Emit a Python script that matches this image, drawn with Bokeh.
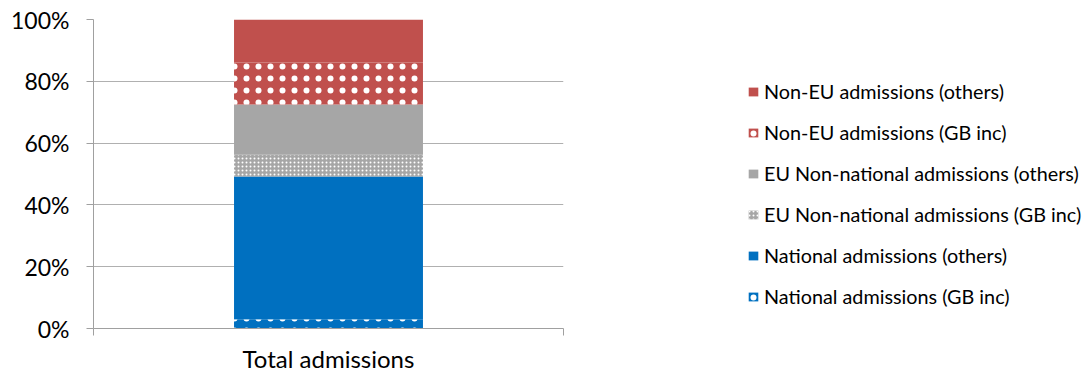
from bokeh.plotting import figure
from bokeh.models import (ColumnDataSource, Legend, LegendItem, FixedTicker,
                          NumeralTickFormatter, Range1d)
from bokeh.embed import file_html
from bokeh.resources import INLINE

categories = ["Total admissions"]
series = ["National admissions (GB inc)", "National admissions (others)",
          "EU Non-national admissions (GB inc)", "EU Non-national admissions (others)",
          "Non-EU admissions (GB inc)", "Non-EU admissions (others)"]
shares = [0.03, 0.462, 0.07, 0.163, 0.136, 0.139]
y_ticks = [0, 0.2, 0.4, 0.6, 0.8, 1.0]

colors = ["#0070C0", "#0070C0", "#A6A6A6", "#A6A6A6", "#C0504D", "#C0504D"]
hatches = ["dot", None, "dot", None, "dot", None]
hscales = [12, 12, 4, 12, 12, 12]
hweights = [4, 1, 1.6, 1, 4, 1]

FONT = "Lato"

p = figure(frame_width=470, frame_height=309, output_backend="svg", toolbar_location=None,
           x_range=Range1d(-0.5, 0.5), y_range=Range1d(0, 1),
           min_border_left=93, min_border_right=184, min_border_top=19,
           min_border_bottom=48)
p.outline_line_color = None
p.background_fill_color = "white"

renderers = []
bottom = 0.0
for i, (name, v) in enumerate(zip(series, shares)):
    src = ColumnDataSource(dict(x=[0], bottom=[bottom], top=[bottom + v]))
    kw = dict(x="x", bottom="bottom", top="top", width=0.402, source=src,
              fill_color=colors[i], line_color=None)
    if hatches[i]:
        kw.update(hatch_pattern=hatches[i], hatch_color="white",
                  hatch_scale=hscales[i], hatch_weight=hweights[i])
    r = p.vbar(**kw)
    renderers.append(r)
    bottom += v

# axes
p.xgrid.visible = False
p.ygrid.grid_line_color = "#B0B0B0"
p.ygrid.ticker = FixedTicker(ticks=y_ticks)

ya = p.yaxis[0]
ya.ticker = FixedTicker(ticks=y_ticks)
ya.formatter = NumeralTickFormatter(format="0%")
ya.axis_line_color = "#A0A0A0"
ya.major_tick_line_color = "#A0A0A0"
ya.major_tick_out = 7
ya.major_tick_in = 0
ya.minor_tick_line_color = None
ya.major_label_standoff = 17
ya.major_label_text_font = FONT
ya.major_label_text_font_size = "23px"
ya.major_label_text_color = "#000000"

xa = p.xaxis[0]
xa.ticker = FixedTicker(ticks=[-0.5, 0.5])
xa.major_label_overrides = {-0.5: "", 0.5: ""}
xa.major_label_text_font_size = "1px"
xa.axis_line_color = "#A0A0A0"
xa.major_tick_line_color = "#A0A0A0"
xa.major_tick_out = 7
xa.major_tick_in = 0
xa.minor_tick_line_color = None
xa.axis_label = categories[0]
xa.axis_label_text_font = FONT
xa.axis_label_text_font_size = "24px"
xa.axis_label_text_font_style = "normal"
xa.axis_label_text_color = "#000000"
xa.axis_label_standoff = 8

items = [LegendItem(label=series[i], renderers=[renderers[i]]) for i in reversed(range(6))]
legend = Legend(items=items, location=(184, 20), orientation="vertical",
                glyph_width=12, glyph_height=11, label_standoff=5,
                label_height=20, spacing=17, padding=0, margin=0,
                border_line_color=None, background_fill_alpha=0,
                label_text_font=FONT, label_text_font_size="19.8px",
                label_text_color="#000000")
p.add_layout(legend, "right")

open("out.html", "w").write(file_html(p, INLINE))
